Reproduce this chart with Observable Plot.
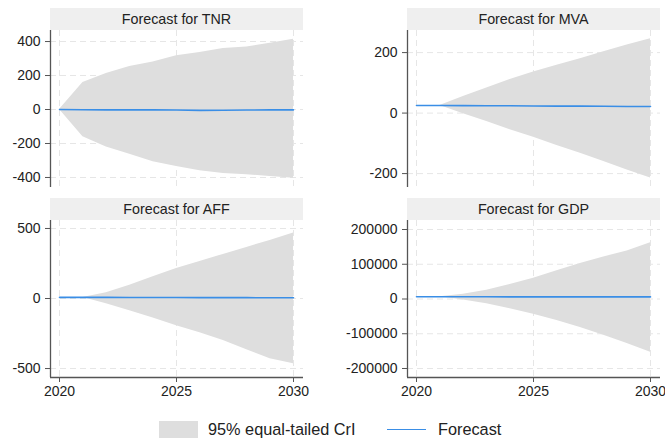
<!DOCTYPE html>
<html>
<head>
<meta charset="utf-8">
<script src="https://cdn.jsdelivr.net/npm/d3@7"></script>
<script src="https://cdn.jsdelivr.net/npm/@observablehq/plot@0.6"></script>
<style>
  html, body { margin: 0; padding: 0; background: #fff; }
  #wrap { position: relative; width: 665px; height: 441px; background: #fff; font-family: "Liberation Sans", Arial, sans-serif; color: #222; overflow: hidden; }
  .strip { position: absolute; height: 22px; line-height: 22px; background: #efefef; text-align: center; font-size: 14.3px; color: #222; }
  .pan { position: absolute; }
  .legend { position: absolute; font-size: 16.3px; color: #222; }
</style>
</head>
<body>
<div id="wrap"></div>
<script>
const years = [2020, 2021, 2022, 2023, 2024, 2025, 2026, 2027, 2028, 2029, 2030];

const tnrForecast = [0, -1, -2, -2, -2, -3, -5, -4, -3, -2, -2];
const tnrLo = [0, -161, -220, -263, -308, -335, -361, -376, -384, -394, -404];
const tnrHi = [0, 159, 212, 253, 280, 316, 335, 359, 368, 390, 414];

const mvaForecast = [25, 25, 24.5, 24, 24, 23.5, 23, 23, 22.5, 22, 22];
const mvaLo = [null, 25, -2, -28, -55, -80, -107, -133, -160, -188, -215];
const mvaHi = [null, 25, 55, 83, 111, 136, 158, 180, 203, 225, 246];

const affForecast = [8, 8, 8, 7, 7, 7, 6, 6, 6, 5, 5];
const affLo = [null, 8, -38, -87, -140, -195, -245, -300, -365, -430, -465];
const affHi = [null, 8, 42, 95, 155, 214, 265, 315, 365, 415, 467];

const gdpForecast = [6500, 6400, 6300, 6300, 6200, 6200, 6100, 6100, 6000, 6000, 6000];
const gdpLo = [null, 6400, -3000, -14000, -28000, -44000, -62000, -82000, -104000, -128000, -153000];
const gdpHi = [null, 6400, 13500, 25000, 42000, 60000, 81000, 102000, 121000, 138000, 162000];

const titles = ["Forecast for TNR", "Forecast for MVA", "Forecast for AFF", "Forecast for GDP"];
const xTicks = [2020, 2025, 2030];
const legendLabels = ["95% equal-tailed CrI", "Forecast"];

const bandColor = "#dedede";
const lineColor = "#3a8ee6";
const gridColor = "#e6e6e6";
const axisColor = "#555";
const font = '"Liberation Sans", Arial, sans-serif';
const fmt = d => String(d);

const panels = [
  {fc: tnrForecast, lo: tnrLo, hi: tnrHi, yDomain: [-459, 465], yTicks: [-400, -200, 0, 200, 400], bottom: false, left: 0, top: 20, ml: 50, strip: [50, 8]},
  {fc: mvaForecast, lo: mvaLo, hi: mvaHi, yDomain: [-246, 273], yTicks: [-200, 0, 200], bottom: false, left: 340, top: 20, ml: 67, strip: [407, 8]},
  {fc: affForecast, lo: affLo, hi: affHi, yDomain: [-564, 557], yTicks: [-500, 0, 500], bottom: true, left: 0, top: 210, ml: 50, strip: [50, 198]},
  {fc: gdpForecast, lo: gdpLo, hi: gdpHi, yDomain: [-225900, 225900], yTicks: [-200000, -100000, 0, 100000, 200000], bottom: true, left: 340, top: 210, ml: 67, strip: [407, 198]}
];

const wrap = document.getElementById("wrap");
const xDomain = [2019.615, 2030.427];

panels.forEach((p, k) => {
  const rows = years.map((year, i) => ({year, fc: p.fc[i], lo: p.lo[i], hi: p.hi[i]}));
  const plotW = 253;
  const mb = p.bottom ? 30 : 5;
  const innerH = 157;
  const marks = [
    Plot.gridX(xTicks, {stroke: gridColor, strokeOpacity: 1, strokeDasharray: "6,4"}),
    Plot.gridY(p.yTicks, {stroke: gridColor, strokeOpacity: 1, strokeDasharray: "6,4"}),
    Plot.areaY(rows, {x: "year", y1: "lo", y2: "hi", fill: bandColor}),
    Plot.lineY(rows, {x: "year", y: "fc", stroke: lineColor, strokeWidth: 1.6}),
    Plot.ruleX([xDomain[0]], {stroke: axisColor, strokeWidth: 1.3}),
    Plot.axisY(p.yTicks, {tickSize: 5, tickPadding: 5, tickFormat: fmt, stroke: axisColor, fill: "#222", fontSize: 14, fontFamily: font, label: null})
  ];
  if (p.bottom) {
    marks.push(Plot.ruleY([p.yDomain[0]], {stroke: axisColor, strokeWidth: 1.3}));
    marks.push(Plot.axisX(xTicks, {tickSize: 5, tickPadding: 4, tickFormat: fmt, stroke: axisColor, fill: "#222", fontSize: 14, fontFamily: font, label: null}));
  }
  const svg = Plot.plot({
    width: p.ml + plotW + 5,
    height: 10 + innerH + mb,
    marginLeft: p.ml,
    marginRight: 5,
    marginTop: 10,
    marginBottom: mb,
    style: {background: "transparent", fontFamily: font, fontSize: "14px", color: "#222", overflow: "visible"},
    x: {domain: xDomain, axis: null, label: null},
    y: {domain: p.yDomain, axis: null, label: null},
    marks
  });
  const holder = document.createElement("div");
  holder.className = "pan";
  holder.style.left = p.left + "px";
  holder.style.top = p.top + "px";
  holder.appendChild(svg);
  wrap.appendChild(holder);

  const strip = document.createElement("div");
  strip.className = "strip";
  strip.style.left = p.strip[0] + "px";
  strip.style.top = p.strip[1] + "px";
  strip.style.width = plotW + "px";
  strip.textContent = titles[k];
  wrap.appendChild(strip);
});

// Legend
const sw = document.createElement("div");
sw.style.cssText = `position:absolute;left:159px;top:421px;width:39px;height:17px;background:${bandColor};`;
wrap.appendChild(sw);
const t1 = document.createElement("div");
t1.className = "legend";
t1.style.left = "208px"; t1.style.top = "420px";
t1.textContent = legendLabels[0];
wrap.appendChild(t1);
const ln = document.createElement("div");
ln.style.cssText = `position:absolute;left:387px;top:429px;width:39px;height:0;border-top:1.5px solid ${lineColor};`;
wrap.appendChild(ln);
const t2 = document.createElement("div");
t2.className = "legend";
t2.style.left = "438px"; t2.style.top = "420px";
t2.textContent = legendLabels[1];
wrap.appendChild(t2);
</script>
</body>
</html>
